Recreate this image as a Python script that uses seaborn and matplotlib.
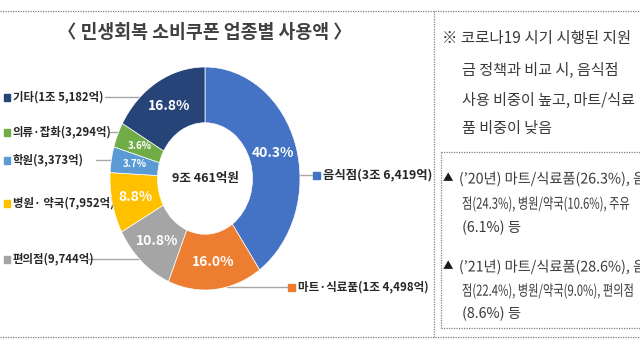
import numpy as np
import seaborn as sns
import matplotlib.pyplot as plt
from matplotlib.patches import Rectangle, PathPatch
from matplotlib.textpath import TextPath
from matplotlib.font_manager import FontProperties
from matplotlib.transforms import Affine2D

sns.set_theme(style="white")
plt.rcParams['font.family'] = ['Noto Sans CJK KR', 'DejaVu Sans']

# data (억원), clockwise from 12 o'clock
categories = ['음식점', '마트·식료품', '편의점', '병원· 약국', '학원', '의류·잡화', '기타']
amounts = [36419, 14498, 9744, 7952, 3373, 3294, 15182]
amount_labels = ['3조 6,419억', '1조 4,498억', '9,744억', '7,952억', '3,373억', '3,294억', '1조 5,182억']
total_label = '9조 461억원'
colors = ['#4472C4', '#ED7D31', '#A5A5A5', '#FFC000', '#5B9BD5', '#70AD47', '#264478']

title = '〈 민생회복 소비쿠폰 업종별 사용액 〉'
note_lines = ['※ 코로나19 시기 시행된 지원', '금 정책과 비교 시, 음식점',
              '사용 비중이 높고, 마트/식료', '품 비중이 낮음']
past_lines = [['(’20년) 마트/식료품(26.3%), 음식', '점(24.3%), 병원/약국(10.6%), 주유', '(6.1%) 등'],
              ['(’21년) 마트/식료품(28.6%), 음식', '점(22.4%), 병원/약국(9.0%), 편의점', '(8.6%) 등']]

W, H = 640, 360
fig = plt.figure(figsize=(6.4, 3.6), dpi=100)
fig.patch.set_facecolor('white')

# overlay in pixel coordinates for annotations
ov = fig.add_axes([0, 0, 1, 1])
ov.set_xlim(0, W)
ov.set_ylim(H, 0)
ov.axis('off')

# donut geometry (pixels)
cx, cy, rx, ry = 205, 178.5, 95, 111.5
ax = fig.add_axes([(cx - rx) / W, (H - cy - ry) / H, 2 * rx / W, 2 * ry / H])
wedges, texts, autotexts = ax.pie(
    amounts, colors=colors, startangle=90, counterclock=False,
    radius=1, autopct='%.1f%%', pctdistance=0.75,
    wedgeprops=dict(width=0.5, edgecolor='white', linewidth=0.5),
    textprops=dict(color='white', fontsize=10, fontweight='bold'))
for val, t in zip(amounts, autotexts):
    if val / sum(amounts) < 0.05:
        t.set_fontsize(7)
ax.set_xlim(-1, 1)
ax.set_ylim(-1, 1)
ax.set_aspect('auto')
ax.axis('off')
ax.text(0, 0, total_label, ha='center', va='center', fontsize=9,
        fontweight='bold', color='#262626')

# title
ov.text(205, 33, title, ha='center', va='center', fontsize=13.2,
        fontweight='bold', color='#404040')

# category labels with leader lines
label_pos = {  # (side, y)
    '음식점': ('R', 175), '마트·식료품': ('R', 287), '편의점': ('L', 259),
    '병원· 약국': ('L', 203), '학원': ('L', 160), '의류·잡화': ('L', 132),
    '기타': ('L', 97)}
left_line_start = {'기타': 105, '의류·잡화': 110, '학원': 96, '편의점': 88}
right_sq = {'음식점': 316, '마트·식료품': 291}
for cat, amt, col in zip(categories, amount_labels, colors):
    side, y = label_pos[cat]
    d = min(abs((cy - y) / ry), 1)
    edge = rx * np.sqrt(1 - d ** 2)
    txt = f'{cat}({amt})'
    if side == 'L':
        if cat in left_line_start:
            ov.plot([left_line_start[cat], cx - edge], [y, y], color='#A6A6A6', lw=1)
        ov.add_patch(Rectangle((4, y - 3.5), 6, 7, color=col))
        ov.text(13, y, txt, ha='left', va='center', fontsize=8.2,
                fontweight='bold', color='#262626')
    else:
        sx = right_sq[cat]
        fs = 8.9 if cat == '음식점' else 8.3
        ov.plot([cx + edge, sx - 4], [y, y], color='#A6A6A6', lw=1)
        ov.add_patch(Rectangle((sx - 3, y - 3.5), 7, 7, color=col))
        ov.text(sx + 7, y, txt, ha='left', va='center', fontsize=fs,
                fontweight='bold', color='#262626')

# dotted frames
dot = dict(color='#808080', lw=0.9, linestyle=(0, (1, 1)))
ov.plot([0, W], [11, 11], **dot)
ov.plot([0, W], [337, 337], **dot)
ov.plot([434, 434], [11, 337], **dot)
ov.plot([441, W], [152, 152], **dot)
ov.plot([441, W], [328, 328], **dot)
ov.plot([441, 441], [152, 328], **dot)

# right notes
txt_col = '#3A3A3A'
ov.text(442, 38, note_lines[0], ha='left', va='center', fontsize=11.2, color=txt_col)
for y, line in zip([70, 100, 128], note_lines[1:]):
    ov.text(462, y, line, ha='left', va='center', fontsize=10.9, color=txt_col)


def condensed(x, y, s, size_px, sx):
    # horizontally squeezed text, like the narrow lines in the source
    tp = TextPath((0, 0), s, size=size_px, prop=FontProperties(family='Noto Sans CJK KR'))
    tr = Affine2D().scale(sx, -1).translate(x, y + 0.38 * size_px) + ov.transData
    ov.add_patch(PathPatch(tp, transform=tr, facecolor=txt_col, edgecolor='none'))


for block, ys in zip(past_lines, [[178, 203, 228], [266, 290, 314]]):
    ov.text(443, ys[0], '▲', ha='left', va='center', fontsize=7.5, color='#1A1A1A')
    condensed(459, ys[0], block[0], 14.5, 0.98)
    condensed(462, ys[1], block[1], 15, 0.75)
    ov.text(462, ys[2], block[2], ha='left', va='center', fontsize=10.3, color=txt_col)

fig.savefig('out.png', dpi=100)
